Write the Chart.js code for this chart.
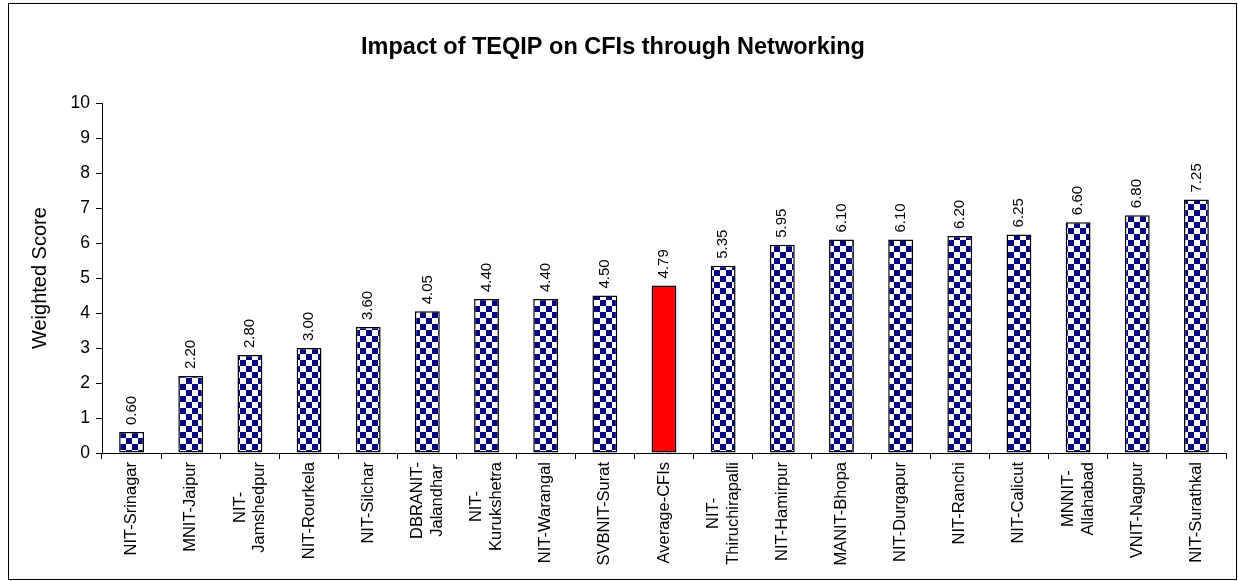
<!DOCTYPE html>
<html>
<head>
<meta charset="utf-8">
<script src="https://cdn.jsdelivr.net/npm/chart.js@4.4.1/dist/chart.umd.min.js"></script>
<style>
html,body{margin:0;padding:0;background:#fff;}
#wrap{position:relative;width:1238px;height:581px;}
#frame{position:absolute;left:8px;top:3px;width:1229px;height:577px;border:1px solid #000;box-sizing:border-box;pointer-events:none;}
canvas{position:absolute;left:0;top:0;}
</style>
</head>
<body>
<div id="wrap">
<canvas id="c" width="1238" height="581"></canvas>
<div id="frame"></div>
</div>
<script>
const categories = [
  "NIT-Srinagar", "MNIT-Jaipur", ["NIT-", "Jamshedpur"], "NIT-Rourkela", "NIT-Silchar",
  ["DBRANIT-", "Jalandhar"], ["NIT-", "Kurukshetra"], "NIT-Warangal", "SVBNIT-Surat",
  "Average-CFIs", ["NIT-", "Thiruchirapalli"], "NIT-Hamirpur", "MANIT-Bhopa",
  "NIT-Durgapur", "NIT-Ranchi", "NIT-Calicut", ["MNNIT-", "Allahabad"], "VNIT-Nagpur", "NIT-Surathkal"
];
const scores = [0.60, 2.20, 2.80, 3.00, 3.60, 4.05, 4.40, 4.40, 4.50, 4.79, 5.35, 5.95, 6.10, 6.10, 6.20, 6.25, 6.60, 6.80, 7.25];
const highlightCategory = "Average-CFIs";
const yTicks = [0,1,2,3,4,5,6,7,8,9,10];
const chartTitle = "Impact of TEQIP on CFIs through Networking";
const yAxisTitle = "Weighted Score";

const FONT = "'Liberation Sans', Arial, sans-serif";
const X_LABEL_SIZE = 16.5;

function makeChecker() {
  const p = document.createElement('canvas');
  p.width = 12; p.height = 12;
  const g = p.getContext('2d');
  g.fillStyle = '#ffffff'; g.fillRect(0,0,12,12);
  g.fillStyle = '#000080';
  g.fillRect(0,0,6,6); g.fillRect(6,6,6,6);
  return g.createPattern(p, 'repeat');
}

const ctx = document.getElementById('c').getContext('2d');
const checker = makeChecker();
const fills = categories.map(c => (c === highlightCategory ? '#ff0000' : checker));

// value labels above bars, rotated
const valueLabels = {
  id: 'valueLabels',
  afterDatasetsDraw(chart) {
    const g = chart.ctx;
    const meta = chart.getDatasetMeta(0);
    g.save();
    g.font = "15px " + FONT;
    g.fillStyle = '#000';
    g.textAlign = 'left';
    g.textBaseline = 'middle';
    meta.data.forEach((bar, i) => {
      g.save();
      g.translate(bar.x, bar.y - 7);
      g.rotate(-Math.PI / 2);
      g.fillText(scores[i].toFixed(2), 0, 0);
      g.restore();
    });
    g.restore();
  }
};

// category labels, rotated, lines centred on each other
const categoryLabels = {
  id: 'categoryLabels',
  afterDraw(chart) {
    const g = chart.ctx;
    const xs = chart.scales.x;
    const lh = X_LABEL_SIZE * 1.2;
    g.save();
    g.font = X_LABEL_SIZE + "px " + FONT;
    g.fillStyle = '#000';
    g.textAlign = 'center';
    g.textBaseline = 'middle';
    const yStart = xs.top + 6 + 3;
    categories.forEach((lab, i) => {
      const lines = Array.isArray(lab) ? lab : [lab];
      const w = Math.max(...lines.map(l => g.measureText(l).width));
      const x = xs.getPixelForValue(i);
      g.save();
      g.translate(x, yStart);
      g.rotate(-Math.PI / 2);
      lines.forEach((l, k) => {
        const off = (k - (lines.length - 1) / 2) * lh;
        g.fillText(l, -w / 2, off);
      });
      g.restore();
    });
    g.restore();
  }
};

new Chart(ctx, {
  type: 'bar',
  data: {
    labels: categories,
    datasets: [{
      data: scores,
      backgroundColor: fills,
      borderColor: '#000',
      borderWidth: 1.5,
      borderSkipped: false,
      barPercentage: 0.42,
      categoryPercentage: 1.0
    }]
  },
  options: {
    responsive: false,
    animation: false,
    devicePixelRatio: 1,
    layout: { padding: { left: 0, right: 12, top: 0, bottom: 0 } },
    plugins: {
      legend: { display: false },
      tooltip: { enabled: false },
      title: {
        display: true,
        text: chartTitle,
        color: '#000',
        font: { family: FONT, size: 23.5, weight: 'bold' },
        padding: { top: 33, bottom: 42 }
      }
    },
    scales: {
      x: {
        afterFit(axis) { axis.height = 128; },
        grid: { display: true, drawOnChartArea: false, offset: true, color: '#000', tickLength: 6 },
        border: { color: '#000', width: 1 },
        ticks: { display: false, autoSkip: false }
      },
      y: {
        min: 0, max: 10,
        afterBuildTicks(axis) { axis.ticks = yTicks.map(v => ({ value: v })); },
        afterFit(axis) { axis.width = 102; },
        grid: { display: true, drawOnChartArea: false, color: '#000', tickLength: 6 },
        border: { color: '#000', width: 1 },
        title: {
          display: true, text: yAxisTitle, color: '#000',
          font: { family: FONT, size: 20 }, padding: { top: 28, bottom: 0 }
        },
        ticks: { color: '#000', font: { family: FONT, size: 17.5 }, padding: 6 }
      }
    }
  },
  plugins: [valueLabels, categoryLabels]
});
</script>
</body>
</html>
